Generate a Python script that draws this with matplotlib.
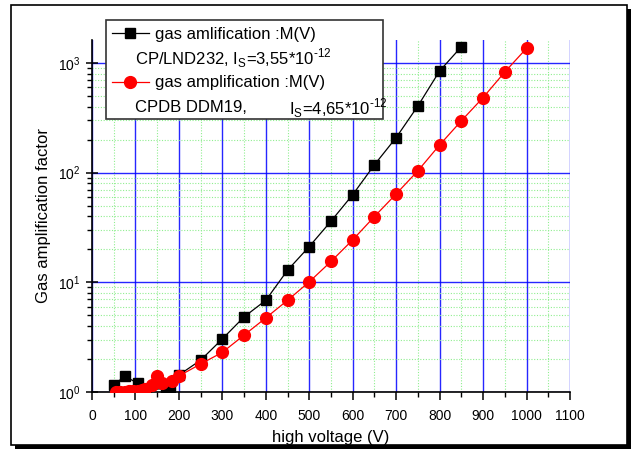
import matplotlib
matplotlib.use("Agg")
import matplotlib.pyplot as plt
from matplotlib.lines import Line2D
from matplotlib.patches import Rectangle
from matplotlib.ticker import MultipleLocator, LogLocator, NullFormatter

plt.rcParams['font.family'] = ['Liberation Sans', 'DejaVu Sans']
plt.rcParams['mathtext.fontset'] = 'custom'
plt.rcParams['mathtext.rm'] = 'Liberation Sans'

# CP/LND232 tube
black_v = [50, 75, 105, 125, 170, 180, 200, 250, 300, 350, 400, 450, 500,
           550, 600, 650, 700, 750, 800, 850]
black_m = [1.15, 1.40, 1.20, 1.06, 1.07, 1.10, 1.43, 1.95, 3.05, 4.84, 6.86,
           12.9, 21.2, 36.1, 63, 118, 209, 406, 846, 1406]

# CPDB DDM19 tube
red_v = [55, 65, 75, 85, 95, 105, 115, 122, 137, 149, 160, 183, 200, 250,
         300, 350, 400, 450, 500, 550, 600, 650, 700, 750, 800, 850, 900,
         950, 1000]
red_m = [1.00, 1.01, 1.01, 1.02, 1.02, 1.03, 1.04, 1.06, 1.16, 1.40, 1.21,
         1.27, 1.40, 1.80, 2.30, 3.30, 4.74, 6.86, 10.1, 15.5, 24.4, 39.8,
         64, 104, 179, 297, 484, 828, 1361]

label_black = "gas amlification :M(V)"
label_black2 = "CP/LND232, I$_\\mathregular{S}$=3,55*10$^\\mathregular{\u201012}$"
label_red = "gas amplification :M(V)"
label_red2a = "CPDB DDM19,"
label_red2b = "I$_\\mathregular{S}$=4,65*10$^\\mathregular{\u201012}$"

W, H = 631, 450
fig = plt.figure(figsize=(W / 100, H / 100), dpi=100)


def fx(x):
    return x / W


def fy(y):
    return 1 - y / H


# page frame with drop shadow
fig.patches.append(Rectangle((fx(15), fy(449)), fx(616), 440 / H,
                             transform=fig.transFigure, facecolor='black',
                             edgecolor='none', zorder=-2))
fig.patches.append(Rectangle((fx(11), fy(445)), fx(616), 440 / H,
                             transform=fig.transFigure, facecolor='white',
                             edgecolor='black', lw=1.2, zorder=-1))

ax = fig.add_axes([fx(92), fy(392), fx(478), 352 / H])
ax.set_facecolor('none')
ax.set_zorder(1)

ax.plot(black_v, black_m, color='black', lw=0.9, marker='s', ms=6.5,
        mec='black', mfc='black', zorder=4)
ax.plot(red_v, red_m, color='red', lw=0.9, marker='o', ms=8.5,
        mec='red', mfc='red', zorder=5)

ax.set_yscale('log')
ax.set_xlim(0, 1100)
ax.set_ylim(1, 1620)
ax.xaxis.set_major_locator(MultipleLocator(100))
ax.xaxis.set_minor_locator(MultipleLocator(50))
ax.yaxis.set_major_locator(LogLocator(base=10))
ax.yaxis.set_minor_locator(LogLocator(base=10, subs=range(2, 10)))
ax.yaxis.set_minor_formatter(NullFormatter())

ax.grid(which='major', color='#0000ff', lw=1.0, alpha=0.85)
ax.grid(which='minor', color='#90ee90', lw=0.8, ls=(0, (1, 1.5)))
ax.set_axisbelow(True)

for s in ['top', 'right']:
    ax.spines[s].set_visible(False)
for s in ['left', 'bottom']:
    ax.spines[s].set_linewidth(1.2)

ax.tick_params(which='major', direction='out', length=6, width=1.1,
               labelsize=10, pad=6)
ax.tick_params(which='minor', direction='out', length=3.5, width=1.0)
ax.tick_params(axis='y', which='major', direction='inout', length=9, pad=4)

ax.set_xlabel("high voltage (V)", fontsize=12, labelpad=5)
ax.set_ylabel("Gas amplification factor", fontsize=12, labelpad=5)

# legend box, drawn by hand so the text-only rows can sit further left
fig.patches.append(Rectangle((fx(106), fy(119)), fx(277), 99 / H,
                             transform=fig.transFigure, facecolor='white',
                             edgecolor='#333333', lw=1.2, zorder=10))
for y, color, marker, ms in [(33, 'black', 's', 6.5), (82, 'red', 'o', 8.5)]:
    fig.lines.append(Line2D([fx(112), fx(149)], [fy(y), fy(y)],
                            transform=fig.transFigure, color=color, lw=0.9,
                            zorder=11))
    fig.lines.append(Line2D([fx(130)], [fy(y)], transform=fig.transFigure,
                            color=color, marker=marker, ms=ms, zorder=11))

kw = dict(fontsize=12, va='center', ha='left', zorder=12)
fig.text(fx(155), fy(34), label_black, **kw)
fig.text(fx(135), fy(58), label_black2, **kw)
fig.text(fx(155), fy(83), label_red, **kw)
fig.text(fx(135), fy(108), label_red2a, **kw)
fig.text(fx(289), fy(108), label_red2b, **kw)

fig.savefig("out.png", dpi=100)
